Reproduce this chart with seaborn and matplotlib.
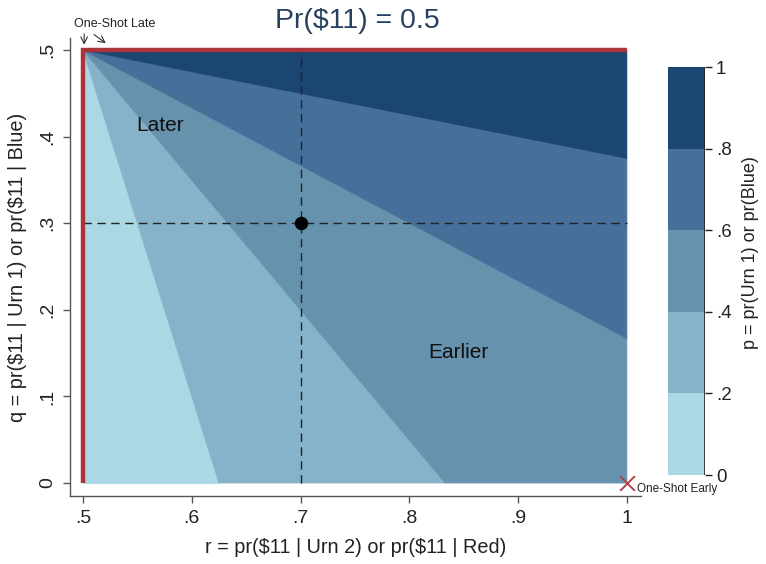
import matplotlib
matplotlib.use("Agg")
import matplotlib.pyplot as plt
import matplotlib as mpl
import numpy as np
import pandas as pd
import seaborn as sns

# ---- data ----
title = "Pr(\\$11) = 0.5"
levels = [0, 0.2, 0.4, 0.6, 0.8, 1.0]
level_labels = ["0", ".2", ".4", ".6", ".8", "1"]
band_colors = ["#acd8e6", "#86b3c9", "#6792ae", "#46709a", "#1c4672"]
# contour boundaries: all start at apex (r=0.5, q=0.5) and end on the frame
apex_r, apex_q = 0.5, 0.5
boundary_r = [0.5, 0.625, 0.833, 1.0, 1.0, 1.0]
boundary_q = [0.0, 0.0, 0.0, 0.167, 0.375, 0.5]
x_ticks = [0.5, 0.6, 0.7, 0.8, 0.9, 1.0]
x_ticklabels = [".5", ".6", ".7", ".8", ".9", "1"]
y_ticks = [0, 0.1, 0.2, 0.3, 0.4, 0.5]
y_ticklabels = ["0", ".1", ".2", ".3", ".4", ".5"]
point_r, point_q = [0.7], [0.3]
early_r, early_q = [1.0], [0.0]
r_range = [0.5, 1.0]
q_range = [0.0, 0.5]

sns.set_theme(style="white")
plt.rcParams["font.family"] = ["Liberation Sans", "DejaVu Sans"]

fig = plt.figure(figsize=(7.66, 5.64), dpi=100)
ax = fig.add_axes([0.0914, 0.1206, 0.7454, 0.812])

# walk the frame (bottom edge then right edge) to build each band polygon
def perim(r, q):
    return r - 0.5 if q == 0 else 0.5 + q

corner = (1.0, 0.0)
for i in range(5):
    r0, q0 = boundary_r[i], boundary_q[i]
    r1, q1 = boundary_r[i + 1], boundary_q[i + 1]
    xs = [apex_r, r0]
    ys = [apex_q, q0]
    if perim(r0, q0) < perim(*corner) < perim(r1, q1):
        xs.append(corner[0]); ys.append(corner[1])
    xs.append(r1); ys.append(q1)
    ax.fill(xs, ys, color=band_colors[i], lw=0.6, ec=band_colors[i], zorder=1)

# dashed reference lines (span the data region only)
ax.plot([point_r[0], point_r[0]], q_range, color="#222222",
        ls=(0, (6, 4)), lw=1.0, zorder=2)
ax.plot(r_range, [point_q[0], point_q[0]], color="#222222",
        ls=(0, (6, 4)), lw=1.0, zorder=2)

# red one-shot lines
red = "#aa3439"
edges = pd.DataFrame({"r": [0.5, 0.5, 1.0], "q": [0.0, 0.5, 0.5]})
ax.plot(edges["r"], edges["q"], color=red, lw=3.2, solid_capstyle="butt",
        solid_joinstyle="miter", zorder=3)

sns.scatterplot(x=point_r, y=point_q, ax=ax, color="black", s=80, zorder=4,
                edgecolor="black")
ax.scatter(early_r, early_q, marker="x", color="#b04448", s=110, lw=1.4,
           zorder=5, clip_on=False)

ax.set_xlim(0.488, 1.013)
ax.set_ylim(-0.015, 0.514)
ax.set_xticks(x_ticks)
ax.set_xticklabels(x_ticklabels, fontsize=14, color="#222222")
ax.set_yticks(y_ticks)
ax.set_yticklabels(y_ticklabels, fontsize=14, color="#222222", rotation=90,
                   va="center")
ax.tick_params(axis="both", direction="out", length=5, width=1,
               color="#555555", bottom=True, left=True, pad=5)
for s in ["top", "right"]:
    ax.spines[s].set_visible(False)
for s in ["left", "bottom"]:
    ax.spines[s].set_color("#555555")
    ax.spines[s].set_linewidth(1.0)
ax.set_facecolor("white")
ax.grid(False)

ax.set_xlabel("r = pr(\\$11 | Urn 2) or pr(\\$11 | Red)", fontsize=14.3,
              color="#222222", labelpad=8)
ax.set_ylabel("q = pr(\\$11 | Urn 1) or pr(\\$11 | Blue)", fontsize=14.3,
              color="#222222", labelpad=9)
fig.text(0.467, 0.962, title, ha="center", va="center", fontsize=20.5,
         color="#27405f")

ax.text(0.571, 0.413, "Later", fontsize=15, ha="center", va="center",
        color="#111111")
ax.text(0.845, 0.151, "Earlier", fontsize=15, ha="center", va="center",
        color="#111111")
ax.text(1.009, -0.0075, "One-Shot Early", fontsize=8.5, ha="left",
        va="center", color="#222222")
fig.text(0.096, 0.957, "One-Shot Late", fontsize=9, ha="left", va="center",
         color="#222222")
ax.annotate("", xy=(0.501, 0.503), xytext=(0.501, 0.522),
            arrowprops=dict(arrowstyle="->", color="#333333", lw=0.8),
            annotation_clip=False)
ax.annotate("", xy=(0.523, 0.506), xytext=(0.508, 0.520),
            arrowprops=dict(arrowstyle="->", color="#333333", lw=0.8),
            annotation_clip=False)

# colorbar
cax = fig.add_axes([0.872, 0.1578, 0.0483, 0.7234])
cmap = mpl.colors.ListedColormap(band_colors)
norm = mpl.colors.BoundaryNorm(levels, cmap.N)
cb = mpl.colorbar.ColorbarBase(cax, cmap=cmap, norm=norm, boundaries=levels,
                               ticks=levels, orientation="vertical")
cb.outline.set_visible(False)
cb.set_ticks(levels)
cb.set_ticklabels(level_labels)
cax.tick_params(direction="out", length=5, width=1, color="#222222",
                labelsize=13.5, labelcolor="#222222", right=True, left=False,
                pad=3)
cax.axvline(1.0, color="#222222", lw=1.2)
cb.set_label("p = pr(Urn 1) or pr(Blue)", fontsize=13, color="#222222")
cax.yaxis.set_label_coords(2.0, 0.545)

fig.savefig("out.png", dpi=100, facecolor="white")
